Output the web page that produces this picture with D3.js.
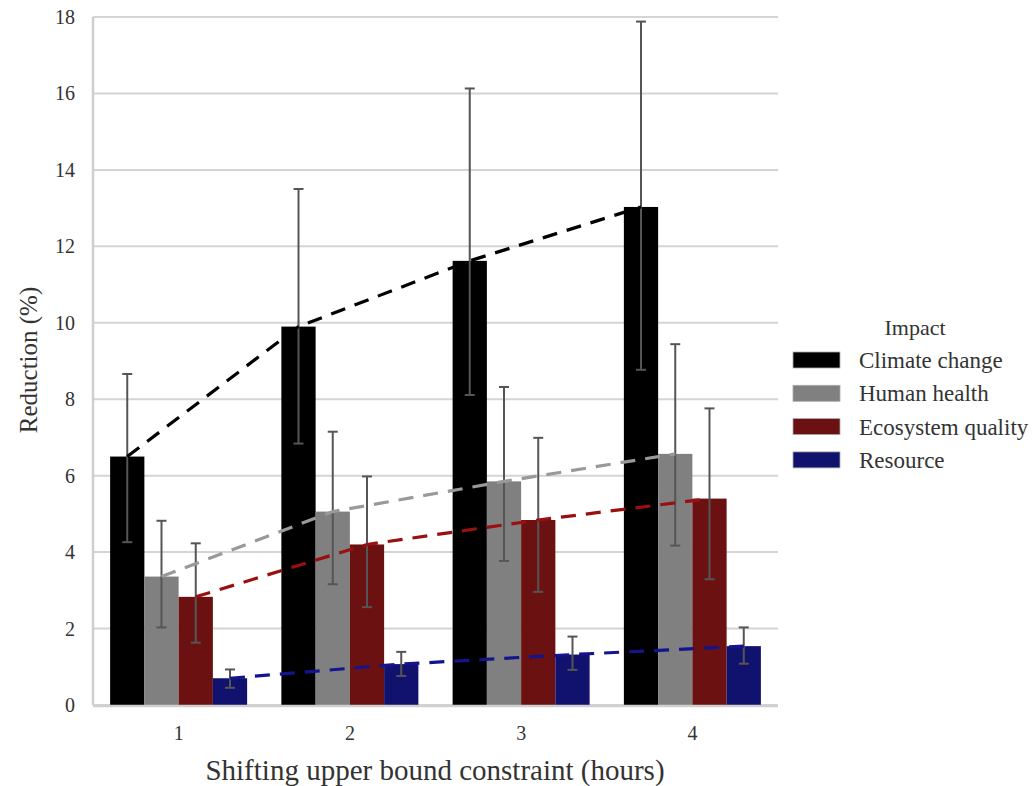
<!DOCTYPE html>
<html>
<head>
<meta charset="utf-8">
<script src="https://cdn.jsdelivr.net/npm/d3@7"></script>
<style>
  body { margin: 0; background: #fff; }
  text { font-family: "Liberation Serif", "DejaVu Serif", serif; fill: #333; }
</style>
</head>
<body>
<svg id="chart" width="1034" height="786"></svg>
<script>
// data
var hours = ["1", "2", "3", "4"];
var impacts = ["Climate change", "Human health", "Ecosystem quality", "Resource"];
var barColors = ["#000000", "#808080", "#6c1111", "#11116e"];
var lineColors = ["#000000", "#999999", "#9a0f0f", "#14148c"];
var yTicks = [0, 2, 4, 6, 8, 10, 12, 14, 16, 18];

// mean reduction (%) per impact, one value per shifting hour
var climate   = [6.5, 9.9, 11.62, 13.03];
var health    = [3.36, 5.06, 5.85, 6.57];
var ecosystem = [2.83, 4.2, 4.84, 5.4];
var resource  = [0.7, 1.07, 1.32, 1.54];

// error bar upper / lower ends
var climateHi   = [8.66, 13.5, 16.13, 17.88];
var climateLo   = [4.26, 6.84, 8.11, 8.77];
var healthHi    = [4.82, 7.15, 8.32, 9.44];
var healthLo    = [2.03, 3.16, 3.77, 4.17];
var ecosystemHi = [4.23, 5.98, 6.99, 7.76];
var ecosystemLo = [1.63, 2.56, 2.96, 3.29];
var resourceHi  = [0.93, 1.39, 1.79, 2.03];
var resourceLo  = [0.45, 0.76, 0.92, 1.08];

var means = [climate, health, ecosystem, resource];
var highs = [climateHi, healthHi, ecosystemHi, resourceHi];
var lows  = [climateLo, healthLo, ecosystemLo, resourceLo];

var svg = d3.select("#chart");
var plotL = 93, plotR = 778, plotT = 17, plotB = 705;

var x = d3.scaleBand()
  .domain(hours)
  .range([plotL, plotR])
  .paddingInner(0.2)
  .paddingOuter(0.1);

var xs = d3.scaleBand()
  .domain(impacts)
  .range([0, x.bandwidth()]);

var y = d3.scaleLinear()
  .domain([0, 18])
  .range([plotB, plotT]);

// grid
svg.append("g")
  .selectAll("line")
  .data(yTicks)
  .join("line")
  .attr("x1", plotL)
  .attr("x2", plotR)
  .attr("y1", function(d) { return y(d); })
  .attr("y2", function(d) { return y(d); })
  .attr("stroke", "#d4d4d4")
  .attr("stroke-width", 2);

svg.append("line")
  .attr("x1", plotL).attr("x2", plotL)
  .attr("y1", plotT).attr("y2", plotB)
  .attr("stroke", "#cfcfcf")
  .attr("stroke-width", 2.5);

// y tick labels
svg.append("g")
  .selectAll("text")
  .data(yTicks)
  .join("text")
  .attr("x", 75)
  .attr("y", function(d) { return y(d); })
  .attr("dy", "0.35em")
  .attr("text-anchor", "end")
  .style("font-size", "20px")
  .text(function(d) { return d; });

// x tick labels
svg.append("g")
  .selectAll("text")
  .data(hours)
  .join("text")
  .attr("x", function(d) { return x(d) + x.bandwidth() / 2; })
  .attr("y", 733)
  .attr("dy", "0.35em")
  .attr("text-anchor", "middle")
  .style("font-size", "20px")
  .text(function(d) { return d; });

// bars
impacts.forEach(function(imp, i) {
  svg.append("g")
    .selectAll("rect")
    .data(hours)
    .join("rect")
    .attr("x", function(h) { return x(h) + xs(imp); })
    .attr("width", xs.bandwidth())
    .attr("y", function(h, j) { return y(means[i][j]); })
    .attr("height", function(h, j) { return y(0) - y(means[i][j]); })
    .attr("fill", barColors[i]);
});

// bottom axis line
svg.append("line")
  .attr("x1", plotL).attr("x2", plotR)
  .attr("y1", plotB + 1).attr("y2", plotB + 1)
  .attr("stroke", "#cfcfcf")
  .attr("stroke-width", 2.5);

// error bars
impacts.forEach(function(imp, i) {
  var g = svg.append("g").attr("stroke", "#555").attr("stroke-width", 2);
  hours.forEach(function(h, j) {
    var cx = x(h) + xs(imp) + xs.bandwidth() / 2;
    g.append("line").attr("x1", cx).attr("x2", cx)
      .attr("y1", y(highs[i][j])).attr("y2", y(lows[i][j]));
    g.append("line").attr("x1", cx - 5).attr("x2", cx + 5)
      .attr("y1", y(highs[i][j])).attr("y2", y(highs[i][j]));
    g.append("line").attr("x1", cx - 5).attr("x2", cx + 5)
      .attr("y1", y(lows[i][j])).attr("y2", y(lows[i][j]));
  });
});

// dashed trend lines
var line = d3.line()
  .x(function(d) { return d[0]; })
  .y(function(d) { return y(d[1]); });

impacts.forEach(function(imp, i) {
  var pts = hours.map(function(h, j) {
    return [x(h) + xs(imp) + xs.bandwidth() / 2, means[i][j]];
  });
  svg.append("path")
    .attr("d", line(pts))
    .attr("fill", "none")
    .attr("stroke", lineColors[i])
    .attr("stroke-width", 3.2)
    .attr("stroke-dasharray", "15,10");
});

// axis titles
svg.append("text")
  .attr("x", 435)
  .attr("y", 770)
  .attr("dy", "0.35em")
  .attr("text-anchor", "middle")
  .style("font-size", "29px")
  .text("Shifting upper bound constraint (hours)");

svg.append("text")
  .attr("transform", "translate(28," + 360 + ") rotate(-90)")
  .attr("dy", "0.35em")
  .attr("text-anchor", "middle")
  .style("font-size", "25px")
  .text("Reduction (%)");

// legend
var legend = svg.append("g").attr("transform", "translate(793,327)");
legend.append("text")
  .attr("x", 122)
  .attr("y", 0)
  .attr("dy", "0.35em")
  .attr("text-anchor", "middle")
  .style("font-size", "22px")
  .text("Impact");

var rows = legend.selectAll("g.row")
  .data(impacts)
  .join("g")
  .attr("class", "row")
  .attr("transform", function(d, i) { return "translate(0," + (33 + i * 33.3) + ")"; });

rows.append("rect")
  .attr("x", 0)
  .attr("y", -8)
  .attr("width", 47)
  .attr("height", 16)
  .attr("fill", function(d, i) { return barColors[i]; })
  .attr("stroke", "#aaa")
  .attr("stroke-width", 0.8);

rows.append("text")
  .attr("x", 66)
  .attr("y", 0)
  .attr("dy", "0.35em")
  .style("font-size", "23px")
  .text(function(d) { return d; });
</script>
</body>
</html>
